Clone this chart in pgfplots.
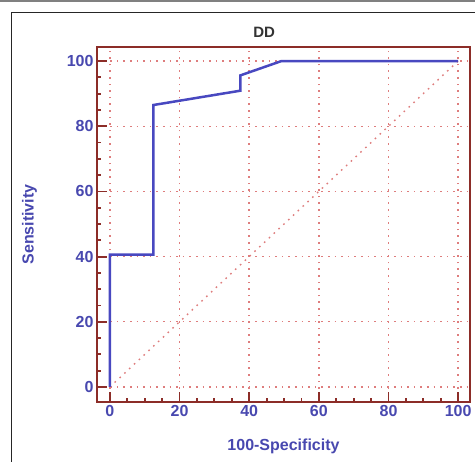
\documentclass[border=0pt]{standalone}
\usepackage{fontspec}
\setmainfont{Liberation Sans}
\usepackage{pgfplots}
\pgfplotsset{compat=1.18}
\definecolor{framec}{RGB}{140,45,40}
\definecolor{gridred}{RGB}{222,125,125}
\definecolor{roc}{RGB}{72,72,192}
\definecolor{lab}{RGB}{72,72,175}
\begin{document}
\begin{tikzpicture}
\path[use as bounding box] (-97pt,-60pt) rectangle (378pt,402pt);
\draw[gray, line width=1.5pt] (-97pt,401pt) -- (378pt,401pt);
\draw[black!85, line width=0.8pt] (-86pt,-61pt) -- (-86pt,390pt) -- (379pt,390pt);
\begin{axis}[at={(0pt,0pt)}, anchor=south west, scale only axis,
  width=373pt, height=355pt,
  xmin=-3.7, xmax=103.4, ymin=-4.6, ymax=104.3,
  axis line style={framec, line width=2.5pt},
  xtick={0,20,...,100}, ytick={0,20,...,100},
  minor tick num=3,
  tick align=inside, xtick pos=left, ytick pos=left,
  major tick length=10pt, minor tick length=4pt,
  tick style={framec, line width=1.8pt},
  grid=major,
  major grid style={gridred, line width=1.4pt, dash pattern=on 1.6pt off 5pt},
  ticklabel style={font=\bfseries\fontsize{16}{18}\selectfont, text=lab},
  /pgf/number format/assume math mode=true,
  xlabel={100-Specificity}, ylabel={Sensitivity},
  label style={font=\bfseries\fontsize{16}{18}\selectfont, text=lab},
  xlabel style={at={(axis description cs:0.5,0)}, anchor=north, yshift=-33pt},
  ylabel style={at={(axis description cs:-0.181,0.5)}, anchor=center, rotate=0},
  title={DD},
  title style={at={(axis description cs:0.448,1)}, anchor=center, yshift=9pt,
    font=\bfseries\fontsize{15}{17}\selectfont, text=black!80},
]
\addplot[gridred, line width=1.4pt, dash pattern=on 1.6pt off 5pt] coordinates {(0,0) (100,100)};
\addplot[roc, line width=2.5pt] coordinates {
  (0,0) (0,40.6) (12.5,40.6) (12.5,86.5) (37.5,90.9) (37.5,95.6) (49.3,100) (100,100)};
\end{axis}
\end{tikzpicture}
\end{document}
